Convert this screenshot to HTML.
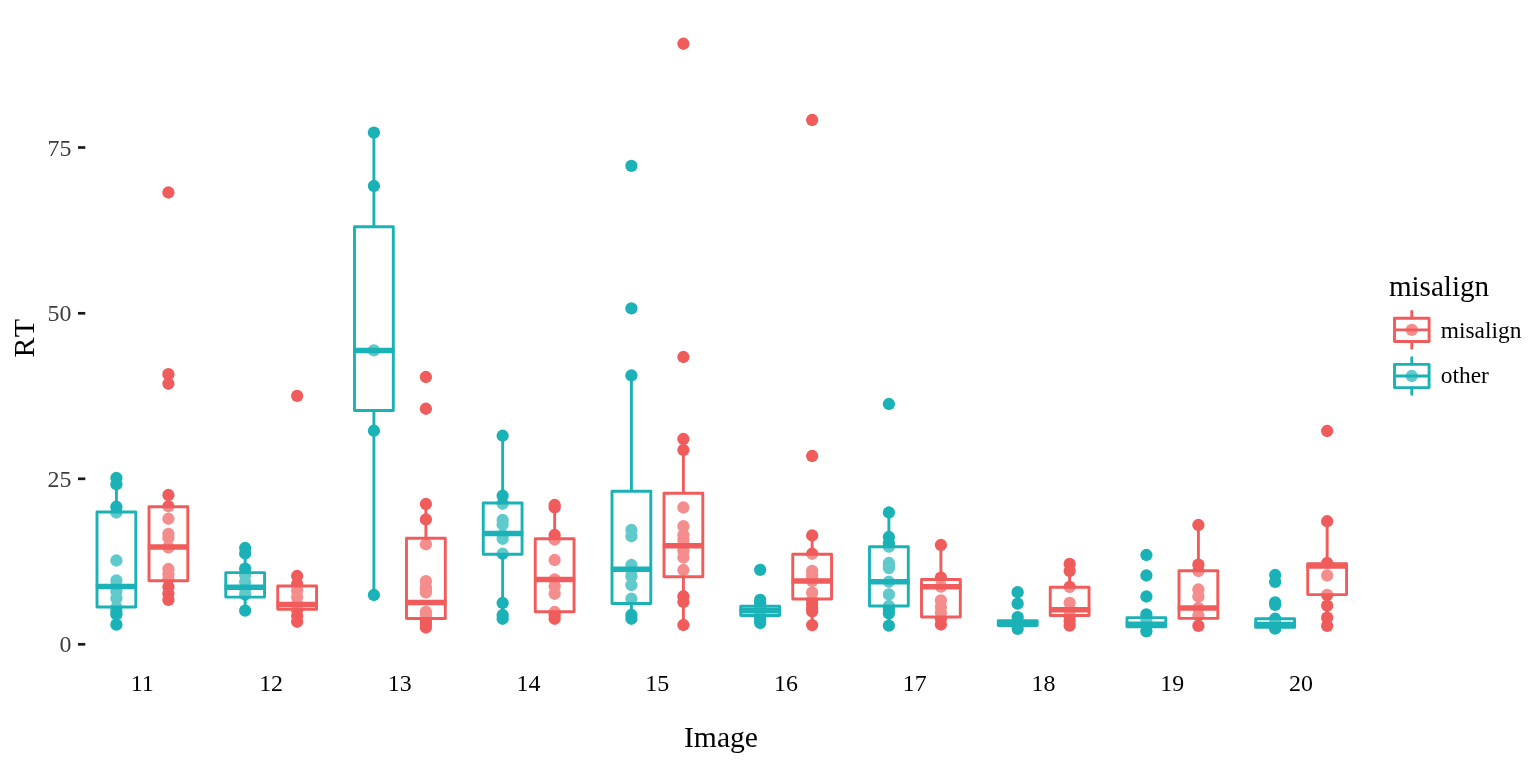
<!DOCTYPE html>
<html lang="en"><head><meta charset="utf-8"><title>RT by Image</title>
<style>html,body{margin:0;padding:0;background:#fff;overflow:hidden}svg{display:block}</style>
</head><body>
<svg width="1536" height="768" viewBox="0 0 1536 768">
<rect width="1536" height="768" fill="#fff"/>
<g fill="#F05C5B">
<circle cx="168.40" cy="192.5" r="6.15"/>
<circle cx="168.40" cy="374.2" r="6.15"/>
<circle cx="168.40" cy="383.75" r="6.15"/>
<circle cx="168.40" cy="495" r="6.15"/>
<circle cx="168.40" cy="506.25" r="6.15"/>
<circle cx="168.40" cy="518.75" r="6.15"/>
<circle cx="168.40" cy="533.8" r="6.15"/>
<circle cx="168.40" cy="538" r="6.15"/>
<circle cx="168.40" cy="547.5" r="6.15"/>
<circle cx="168.40" cy="569" r="6.15"/>
<circle cx="168.40" cy="574" r="6.15"/>
<circle cx="168.40" cy="579" r="6.15"/>
<circle cx="168.40" cy="587" r="6.15"/>
<circle cx="168.40" cy="593.5" r="6.15"/>
<circle cx="168.40" cy="599.9" r="6.15"/>
<circle cx="297.15" cy="395.8" r="6.15"/>
<circle cx="297.15" cy="576" r="6.15"/>
<circle cx="297.15" cy="584" r="6.15"/>
<circle cx="297.15" cy="590.5" r="6.15"/>
<circle cx="297.15" cy="597" r="6.15"/>
<circle cx="297.15" cy="604" r="6.15"/>
<circle cx="297.15" cy="610" r="6.15"/>
<circle cx="297.15" cy="616" r="6.15"/>
<circle cx="297.15" cy="621.75" r="6.15"/>
<circle cx="425.90" cy="377" r="6.15"/>
<circle cx="425.90" cy="408.75" r="6.15"/>
<circle cx="425.90" cy="504" r="6.15"/>
<circle cx="425.90" cy="519.5" r="6.15"/>
<circle cx="425.90" cy="544.25" r="6.15"/>
<circle cx="425.90" cy="581.2" r="6.15"/>
<circle cx="425.90" cy="587" r="6.15"/>
<circle cx="425.90" cy="590" r="6.15"/>
<circle cx="425.90" cy="592.4" r="6.15"/>
<circle cx="425.90" cy="611.9" r="6.15"/>
<circle cx="425.90" cy="615" r="6.15"/>
<circle cx="425.90" cy="618" r="6.15"/>
<circle cx="425.90" cy="621" r="6.15"/>
<circle cx="425.90" cy="624" r="6.15"/>
<circle cx="425.90" cy="627.5" r="6.15"/>
<circle cx="554.65" cy="505" r="6.15"/>
<circle cx="554.65" cy="507.5" r="6.15"/>
<circle cx="554.65" cy="535" r="6.15"/>
<circle cx="554.65" cy="539.5" r="6.15"/>
<circle cx="554.65" cy="560" r="6.15"/>
<circle cx="554.65" cy="579.5" r="6.15"/>
<circle cx="554.65" cy="586.25" r="6.15"/>
<circle cx="554.65" cy="593.75" r="6.15"/>
<circle cx="554.65" cy="612" r="6.15"/>
<circle cx="554.65" cy="615" r="6.15"/>
<circle cx="554.65" cy="618.75" r="6.15"/>
<circle cx="683.40" cy="43.75" r="6.15"/>
<circle cx="683.40" cy="357" r="6.15"/>
<circle cx="683.40" cy="439" r="6.15"/>
<circle cx="683.40" cy="450" r="6.15"/>
<circle cx="683.40" cy="507.5" r="6.15"/>
<circle cx="683.40" cy="526.25" r="6.15"/>
<circle cx="683.40" cy="535" r="6.15"/>
<circle cx="683.40" cy="540" r="6.15"/>
<circle cx="683.40" cy="545" r="6.15"/>
<circle cx="683.40" cy="551" r="6.15"/>
<circle cx="683.40" cy="557.5" r="6.15"/>
<circle cx="683.40" cy="570" r="6.15"/>
<circle cx="683.40" cy="596.25" r="6.15"/>
<circle cx="683.40" cy="602" r="6.15"/>
<circle cx="683.40" cy="625" r="6.15"/>
<circle cx="812.15" cy="120" r="6.15"/>
<circle cx="812.15" cy="456" r="6.15"/>
<circle cx="812.15" cy="535.5" r="6.15"/>
<circle cx="812.15" cy="553.75" r="6.15"/>
<circle cx="812.15" cy="570.8" r="6.15"/>
<circle cx="812.15" cy="574.5" r="6.15"/>
<circle cx="812.15" cy="578" r="6.15"/>
<circle cx="812.15" cy="581" r="6.15"/>
<circle cx="812.15" cy="592.7" r="6.15"/>
<circle cx="812.15" cy="600" r="6.15"/>
<circle cx="812.15" cy="604" r="6.15"/>
<circle cx="812.15" cy="608" r="6.15"/>
<circle cx="812.15" cy="611.5" r="6.15"/>
<circle cx="812.15" cy="625.1" r="6.15"/>
<circle cx="940.90" cy="545" r="6.15"/>
<circle cx="940.90" cy="577.6" r="6.15"/>
<circle cx="940.90" cy="586.7" r="6.15"/>
<circle cx="940.90" cy="600.3" r="6.15"/>
<circle cx="940.90" cy="607" r="6.15"/>
<circle cx="940.90" cy="612.8" r="6.15"/>
<circle cx="940.90" cy="618.75" r="6.15"/>
<circle cx="940.90" cy="624.5" r="6.15"/>
<circle cx="1069.65" cy="563.9" r="6.15"/>
<circle cx="1069.65" cy="571" r="6.15"/>
<circle cx="1069.65" cy="586.9" r="6.15"/>
<circle cx="1069.65" cy="602.8" r="6.15"/>
<circle cx="1069.65" cy="610" r="6.15"/>
<circle cx="1069.65" cy="616" r="6.15"/>
<circle cx="1069.65" cy="621" r="6.15"/>
<circle cx="1069.65" cy="625.6" r="6.15"/>
<circle cx="1198.40" cy="525" r="6.15"/>
<circle cx="1198.40" cy="564.7" r="6.15"/>
<circle cx="1198.40" cy="571" r="6.15"/>
<circle cx="1198.40" cy="589.5" r="6.15"/>
<circle cx="1198.40" cy="596.4" r="6.15"/>
<circle cx="1198.40" cy="608" r="6.15"/>
<circle cx="1198.40" cy="615.5" r="6.15"/>
<circle cx="1198.40" cy="625.9" r="6.15"/>
<circle cx="1327.15" cy="431" r="6.15"/>
<circle cx="1327.15" cy="521.25" r="6.15"/>
<circle cx="1327.15" cy="563" r="6.15"/>
<circle cx="1327.15" cy="575.5" r="6.15"/>
<circle cx="1327.15" cy="594.9" r="6.15"/>
<circle cx="1327.15" cy="605.7" r="6.15"/>
<circle cx="1327.15" cy="617.6" r="6.15"/>
<circle cx="1327.15" cy="625.9" r="6.15"/>
</g>
<g fill="#1BB2B7">
<circle cx="116.40" cy="478" r="6.15"/>
<circle cx="116.40" cy="484.25" r="6.15"/>
<circle cx="116.40" cy="506.75" r="6.15"/>
<circle cx="116.40" cy="512.5" r="6.15"/>
<circle cx="116.40" cy="560.5" r="6.15"/>
<circle cx="116.40" cy="580.5" r="6.15"/>
<circle cx="116.40" cy="586" r="6.15"/>
<circle cx="116.40" cy="591.5" r="6.15"/>
<circle cx="116.40" cy="598.25" r="6.15"/>
<circle cx="116.40" cy="607.5" r="6.15"/>
<circle cx="116.40" cy="611.8" r="6.15"/>
<circle cx="116.40" cy="614.5" r="6.15"/>
<circle cx="116.40" cy="624.7" r="6.15"/>
<circle cx="245.15" cy="548" r="6.15"/>
<circle cx="245.15" cy="553.5" r="6.15"/>
<circle cx="245.15" cy="568.6" r="6.15"/>
<circle cx="245.15" cy="575" r="6.15"/>
<circle cx="245.15" cy="582" r="6.15"/>
<circle cx="245.15" cy="589" r="6.15"/>
<circle cx="245.15" cy="594.5" r="6.15"/>
<circle cx="245.15" cy="610.6" r="6.15"/>
<circle cx="373.90" cy="132.6" r="6.15"/>
<circle cx="373.90" cy="186" r="6.15"/>
<circle cx="373.90" cy="350.3" r="6.15"/>
<circle cx="373.90" cy="430.75" r="6.15"/>
<circle cx="373.90" cy="595" r="6.15"/>
<circle cx="502.65" cy="435.75" r="6.15"/>
<circle cx="502.65" cy="495.75" r="6.15"/>
<circle cx="502.65" cy="503.75" r="6.15"/>
<circle cx="502.65" cy="520" r="6.15"/>
<circle cx="502.65" cy="524.5" r="6.15"/>
<circle cx="502.65" cy="535" r="6.15"/>
<circle cx="502.65" cy="538.75" r="6.15"/>
<circle cx="502.65" cy="553.75" r="6.15"/>
<circle cx="502.65" cy="603" r="6.15"/>
<circle cx="502.65" cy="615" r="6.15"/>
<circle cx="502.65" cy="618.75" r="6.15"/>
<circle cx="631.40" cy="165.8" r="6.15"/>
<circle cx="631.40" cy="308.3" r="6.15"/>
<circle cx="631.40" cy="375.5" r="6.15"/>
<circle cx="631.40" cy="530" r="6.15"/>
<circle cx="631.40" cy="536.25" r="6.15"/>
<circle cx="631.40" cy="565" r="6.15"/>
<circle cx="631.40" cy="570" r="6.15"/>
<circle cx="631.40" cy="576.25" r="6.15"/>
<circle cx="631.40" cy="585" r="6.15"/>
<circle cx="631.40" cy="598.75" r="6.15"/>
<circle cx="631.40" cy="615" r="6.15"/>
<circle cx="631.40" cy="618.75" r="6.15"/>
<circle cx="760.15" cy="569.8" r="6.15"/>
<circle cx="760.15" cy="599.8" r="6.15"/>
<circle cx="760.15" cy="602.5" r="6.15"/>
<circle cx="760.15" cy="605.5" r="6.15"/>
<circle cx="760.15" cy="608.5" r="6.15"/>
<circle cx="760.15" cy="611.5" r="6.15"/>
<circle cx="760.15" cy="614.5" r="6.15"/>
<circle cx="760.15" cy="617.5" r="6.15"/>
<circle cx="760.15" cy="620.5" r="6.15"/>
<circle cx="760.15" cy="623" r="6.15"/>
<circle cx="888.90" cy="404" r="6.15"/>
<circle cx="888.90" cy="512.5" r="6.15"/>
<circle cx="888.90" cy="537" r="6.15"/>
<circle cx="888.90" cy="543" r="6.15"/>
<circle cx="888.90" cy="546.6" r="6.15"/>
<circle cx="888.90" cy="563" r="6.15"/>
<circle cx="888.90" cy="565.5" r="6.15"/>
<circle cx="888.90" cy="568.1" r="6.15"/>
<circle cx="888.90" cy="581.75" r="6.15"/>
<circle cx="888.90" cy="594.4" r="6.15"/>
<circle cx="888.90" cy="606" r="6.15"/>
<circle cx="888.90" cy="609.5" r="6.15"/>
<circle cx="888.90" cy="613.3" r="6.15"/>
<circle cx="888.90" cy="625.6" r="6.15"/>
<circle cx="1017.65" cy="592.2" r="6.15"/>
<circle cx="1017.65" cy="603.7" r="6.15"/>
<circle cx="1017.65" cy="617.1" r="6.15"/>
<circle cx="1017.65" cy="621" r="6.15"/>
<circle cx="1017.65" cy="625" r="6.15"/>
<circle cx="1017.65" cy="628.8" r="6.15"/>
<circle cx="1146.40" cy="555" r="6.15"/>
<circle cx="1146.40" cy="575.5" r="6.15"/>
<circle cx="1146.40" cy="596.5" r="6.15"/>
<circle cx="1146.40" cy="614.4" r="6.15"/>
<circle cx="1146.40" cy="620" r="6.15"/>
<circle cx="1146.40" cy="625.5" r="6.15"/>
<circle cx="1146.40" cy="631.3" r="6.15"/>
<circle cx="1275.15" cy="575" r="6.15"/>
<circle cx="1275.15" cy="581.9" r="6.15"/>
<circle cx="1275.15" cy="602.4" r="6.15"/>
<circle cx="1275.15" cy="604.8" r="6.15"/>
<circle cx="1275.15" cy="618.75" r="6.15"/>
<circle cx="1275.15" cy="623.5" r="6.15"/>
<circle cx="1275.15" cy="628.7" r="6.15"/>
</g>
<g stroke="#F05C5B" stroke-width="2.9" fill="none">
<path d="M168.40 495V506.75M168.40 580.75V599.9"/>
<rect x="149.00" y="506.75" width="38.8" height="74.00" fill="#fff" fill-opacity="0.3" stroke-linejoin="round"/>
<path d="M147.80 547H189.00" stroke-width="5.5"/>
<path d="M297.15 576V586M297.15 609.2V621.75"/>
<rect x="277.75" y="586" width="38.8" height="23.20" fill="#fff" fill-opacity="0.3" stroke-linejoin="round"/>
<path d="M276.55 604.4H317.75" stroke-width="5.5"/>
<path d="M425.90 504V538.25M425.90 618.5V627.5"/>
<rect x="406.50" y="538.25" width="38.8" height="80.25" fill="#fff" fill-opacity="0.3" stroke-linejoin="round"/>
<path d="M405.30 602.5H446.50" stroke-width="5.5"/>
<path d="M554.65 505V538.75M554.65 611.75V618.75"/>
<rect x="535.25" y="538.75" width="38.8" height="73.00" fill="#fff" fill-opacity="0.3" stroke-linejoin="round"/>
<path d="M534.05 579.5H575.25" stroke-width="5.5"/>
<path d="M683.40 439V493.25M683.40 576.75V625"/>
<rect x="664.00" y="493.25" width="38.8" height="83.50" fill="#fff" fill-opacity="0.3" stroke-linejoin="round"/>
<path d="M662.80 545.75H704.00" stroke-width="5.5"/>
<path d="M812.15 535.5V554.25M812.15 599V625.1"/>
<rect x="792.75" y="554.25" width="38.8" height="44.75" fill="#fff" fill-opacity="0.3" stroke-linejoin="round"/>
<path d="M791.55 581H832.75" stroke-width="5.5"/>
<path d="M940.90 545V579.45M940.90 617V624.5"/>
<rect x="921.50" y="579.45" width="38.8" height="37.55" fill="#fff" fill-opacity="0.3" stroke-linejoin="round"/>
<path d="M920.30 586.8H961.50" stroke-width="5.5"/>
<path d="M1069.65 563.9V587.2M1069.65 615.5V625.6"/>
<rect x="1050.25" y="587.2" width="38.8" height="28.30" fill="#fff" fill-opacity="0.3" stroke-linejoin="round"/>
<path d="M1049.05 609.7H1090.25" stroke-width="5.5"/>
<path d="M1198.40 525V570.8M1198.40 618.4V625.9"/>
<rect x="1179.00" y="570.8" width="38.8" height="47.60" fill="#fff" fill-opacity="0.3" stroke-linejoin="round"/>
<path d="M1177.80 608H1219.00" stroke-width="5.5"/>
<path d="M1327.15 521.25V563.6M1327.15 594.6V625.9"/>
<rect x="1307.75" y="563.6" width="38.8" height="31.00" fill="#fff" fill-opacity="0.3" stroke-linejoin="round"/>
<path d="M1306.55 566.1H1347.75" stroke-width="5.5"/>
</g>
<g stroke="#1BB2B7" stroke-width="2.9" fill="none">
<path d="M116.40 478V512M116.40 607V624.7"/>
<rect x="97.00" y="512" width="38.8" height="95.00" fill="#fff" fill-opacity="0.3" stroke-linejoin="round"/>
<path d="M95.80 586.5H137.00" stroke-width="5.5"/>
<path d="M245.15 548V572.65M245.15 597.1V610.6"/>
<rect x="225.75" y="572.65" width="38.8" height="24.45" fill="#fff" fill-opacity="0.3" stroke-linejoin="round"/>
<path d="M224.55 587.3H265.75" stroke-width="5.5"/>
<path d="M373.90 132.6V226.75M373.90 410.5V595"/>
<rect x="354.50" y="226.75" width="38.8" height="183.75" fill="#fff" fill-opacity="0.3" stroke-linejoin="round"/>
<path d="M353.30 350.5H394.50" stroke-width="5.5"/>
<path d="M502.65 435.75V503M502.65 554.25V618.75"/>
<rect x="483.25" y="503" width="38.8" height="51.25" fill="#fff" fill-opacity="0.3" stroke-linejoin="round"/>
<path d="M482.05 533.5H523.25" stroke-width="5.5"/>
<path d="M631.40 375.5V491.25M631.40 603.5V618.75"/>
<rect x="612.00" y="491.25" width="38.8" height="112.25" fill="#fff" fill-opacity="0.3" stroke-linejoin="round"/>
<path d="M610.80 569.25H652.00" stroke-width="5.5"/>
<path d="M760.15 599.8V606.25M760.15 615.5V623"/>
<rect x="740.75" y="606.25" width="38.8" height="9.25" fill="#fff" fill-opacity="0.3" stroke-linejoin="round"/>
<path d="M739.55 610.75H780.75" stroke-width="5.5"/>
<path d="M888.90 512.5V546.75M888.90 606V625.6"/>
<rect x="869.50" y="546.75" width="38.8" height="59.25" fill="#fff" fill-opacity="0.3" stroke-linejoin="round"/>
<path d="M868.30 581.75H909.50" stroke-width="5.5"/>
<path d="M1017.65 617.1V620.8M1017.65 625.5V628.8"/>
<rect x="998.25" y="620.8" width="38.8" height="4.70" fill="#fff" fill-opacity="0.3" stroke-linejoin="round"/>
<path d="M997.05 623.2H1038.25" stroke-width="5.5"/>
<path d="M1146.40 614.4V617.6M1146.40 626.7V631.3"/>
<rect x="1127.00" y="617.6" width="38.8" height="9.10" fill="#fff" fill-opacity="0.3" stroke-linejoin="round"/>
<path d="M1125.80 624.2H1167.00" stroke-width="5.5"/>
<path d="M1275.15 618.75V618.7M1275.15 627.4V628.7"/>
<rect x="1255.75" y="618.7" width="38.8" height="8.70" fill="#fff" fill-opacity="0.3" stroke-linejoin="round"/>
<path d="M1254.55 624.6H1295.75" stroke-width="5.5"/>
</g>
<g font-family="'Liberation Serif', 'Times New Roman', serif" font-size="23.9" fill="#3d3d3d" text-anchor="end">
<text x="71.4" y="155.5">75</text>
<text x="71.4" y="321.3">50</text>
<text x="71.4" y="486.8">25</text>
<text x="71.4" y="652.3">0</text>
</g>
<g stroke="#1a1a1a" stroke-width="2.7">
<path d="M78 147.5H85.3"/>
<path d="M78 313.3H85.3"/>
<path d="M78 478.8H85.3"/>
<path d="M78 644.3H85.3"/>
</g>
<g font-family="'Liberation Serif', 'Times New Roman', serif" font-size="23.9" fill="#000" text-anchor="middle">
<text x="142.3" y="691.3">11</text>
<text x="271.1" y="691.3">12</text>
<text x="399.8" y="691.3">13</text>
<text x="528.5" y="691.3">14</text>
<text x="657.3" y="691.3">15</text>
<text x="786.0" y="691.3">16</text>
<text x="914.8" y="691.3">17</text>
<text x="1043.5" y="691.3">18</text>
<text x="1172.3" y="691.3">19</text>
<text x="1301.0" y="691.3">20</text>
</g>
<g font-family="'Liberation Serif', 'Times New Roman', serif" fill="#000">
<text x="721" y="747" font-size="29.6" text-anchor="middle">Image</text>
<text transform="translate(34.2 338) rotate(-90)" font-size="30" text-anchor="middle" style="font-kerning:none" letter-spacing="0.3">RT</text>
<text x="1388.9" y="295.7" font-size="29.1">misalign</text>
<text x="1440.8" y="337.5" font-size="23.4">misalign</text>
<text x="1440.8" y="383.4" font-size="23.4">other</text>
</g>
<g stroke="#F05C5B" stroke-width="2.9" fill="none">
<circle cx="1411.8" cy="329.9" r="6.15" fill="#F05C5B" stroke="none"/>
<path d="M1411.8 311.5V318.3M1411.8 341.5V348.3" stroke-linecap="round"/>
<rect x="1394.5" y="318.3" width="34.6" height="23.2" fill="#fff" fill-opacity="0.3" stroke-linejoin="round"/>
<path d="M1394.5 329.9H1429.1"/>
</g>
<g stroke="#1BB2B7" stroke-width="2.9" fill="none">
<circle cx="1411.8" cy="376.0" r="6.15" fill="#1BB2B7" stroke="none"/>
<path d="M1411.8 357.6V364.4M1411.8 387.6V394.4" stroke-linecap="round"/>
<rect x="1394.5" y="364.4" width="34.6" height="23.2" fill="#fff" fill-opacity="0.3" stroke-linejoin="round"/>
<path d="M1394.5 376.0H1429.1"/>
</g>
</svg>
</body></html>
